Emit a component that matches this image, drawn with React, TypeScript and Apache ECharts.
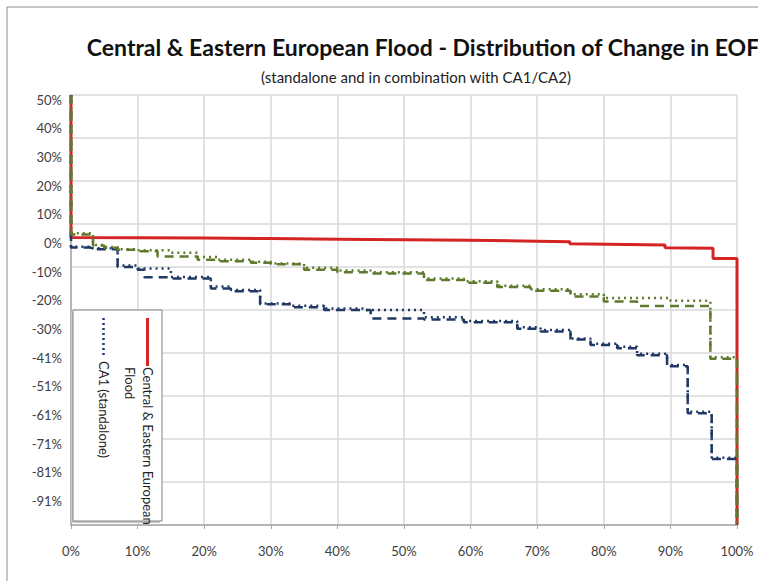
import React, { useEffect, useRef } from 'react';
import * as echarts from 'echarts';

const titleText = 'Central & Eastern European Flood - Distribution of Change in EOF';
const subtitleText = '(standalone and in combination with CA1/CA2)';

const yTickValues = [50, 40, 30, 20, 10, 0, -10, -20, -30, -40, -50, -60, -70, -80, -90];
const yTickLabels = ['50%', '40%', '30%', '20%', '10%', '0%', '-10%', '-20%', '-30%', '-41%', '-51%', '-61%', '-71%', '-81%', '-91%'];

const seriesNames = [
  'Central & Eastern European Flood',
  'CA1 (standalone)',
  'CA2 (standalone)',
  'Central & Eastern European Flood + CA1',
  'Central & Eastern European Flood + CA2',
];

// Central & Eastern European Flood (percentile, change %)
const ceeX = [0, 0, 10, 20, 30, 40, 50, 60, 70, 74.9, 74.9, 89.2, 89.2, 96.4, 96.4, 100, 100];
const ceeY = [50, 0.3, 0.2, 0.1, -0.1, -0.3, -0.5, -0.7, -1.0, -1.2, -1.9, -2.3, -3.3, -3.5, -7.0, -7.0, -100];

// CA1 standalone (step start points)
const ca1X = [0, 0, 3, 7, 10, 15, 21, 24, 28.4, 33, 38, 44, 53, 59, 67, 70.5, 75, 78, 82, 85, 89.5, 92.6, 96.2, 100];
const ca1Y = [50, -2.9, -3.5, -9.5, -10.5, -13.5, -16.8, -18, -22.7, -23.5, -24.5, -25, -27.5, -28.8, -31, -32, -34.9, -36.8, -37.8, -40.3, -44.2, -60.5, -76.5, -100];

// CA2 standalone
const ca2X = [0, 0, 3.3, 5, 7, 10, 15, 19, 22, 27, 30, 35, 40, 45, 53, 59, 64, 69, 75, 80, 90, 96, 100];
const ca2Y = [50, 1.8, -2.3, -3, -3.8, -4.2, -5, -6.5, -7.5, -8.2, -8.8, -10.3, -11.2, -11.8, -14, -15, -16.5, -17.8, -19.5, -20.8, -21.8, -41.5, -100];

// CEE Flood + CA1
const comb1X = [0, 0, 3, 7, 10, 11, 15, 21, 24, 28.4, 33, 38, 45, 53, 59, 67, 70.5, 75, 78, 82, 85, 89.5, 92.6, 96.2, 100];
const comb1Y = [50, -3.2, -3.8, -10, -11, -13.6, -14, -17.5, -18.5, -23, -24, -25, -28, -28.3, -29.3, -31.5, -32.5, -35.3, -37.2, -38.3, -40.8, -44.6, -61, -77, -100];

// CEE Flood + CA2
const comb2X = [0, 0, 3.3, 5, 7, 10, 13, 19, 22, 27, 30, 35, 40, 45, 53, 59, 64, 69, 75, 80, 85, 96, 100];
const comb2Y = [50, 1.3, -2.5, -3.3, -4, -4.5, -6.3, -7.5, -8, -8.5, -9, -11, -11.8, -12.3, -14.5, -15.5, -17, -18.3, -20.3, -22, -23.6, -42, -100];

const zip = (xs: number[], ys: number[]) => xs.map((x, i) => [x, ys[i]]);

const RED = '#D42424';
const BLUE = '#1F3864';
const GREEN = '#5F7A2C';
const FONT = 'Lato, "Noto Sans", sans-serif';

export default function App() {
  const ref = useRef<HTMLDivElement>(null);
  useEffect(() => {
    if (!ref.current) return;
    const chart = echarts.init(ref.current, null, { renderer: 'svg' });
    const lineCommon = { type: 'line', showSymbol: false, symbol: 'none', xAxisIndex: 0, yAxisIndex: 0 };
    chart.setOption({
      animation: false,
      backgroundColor: '#ffffff',
      textStyle: { fontFamily: FONT },
      title: [
        {
          text: titleText,
          left: 418,
          top: 30,
          textAlign: 'center',
          textStyle: { fontFamily: FONT, fontSize: 23, fontWeight: 'bold', color: '#111' },
        },
        {
          text: subtitleText,
          left: 411,
          top: 64,
          textAlign: 'center',
          textStyle: { fontFamily: FONT, fontSize: 15, fontWeight: 'normal', color: '#222' },
        },
      ],
      grid: { left: 71, right: 21, top: 95, bottom: 56, containLabel: false },
      xAxis: {
        type: 'value',
        min: 0,
        max: 100,
        interval: 10,
        axisLine: { show: true, onZero: false, lineStyle: { color: '#a6a6a6', width: 1.5 } },
        axisTick: { show: true, length: 4, lineStyle: { color: '#a6a6a6' } },
        axisLabel: { formatter: (v: number) => `${v}%`, margin: 19, fontSize: 13, color: '#404040', fontFamily: FONT },
        splitLine: { show: true, lineStyle: { color: '#d9d9d9', width: 1.5 } },
      },
      yAxis: [
        {
          type: 'value',
          min: -100,
          max: 50,
          interval: 10,
          axisLine: { show: true, onZero: false, lineStyle: { color: '#a6a6a6', width: 1.5 } },
          axisTick: { show: false },
          splitLine: { show: false },
          axisLabel: {
            margin: 9,
            fontSize: 13,
            color: '#404040',
            fontFamily: FONT,
            verticalAlign: 'top',
            lineHeight: 9,
            formatter: (v: number) => {
              const i = yTickValues.indexOf(Math.round(v));
              return i >= 0 ? yTickLabels[i] : '';
            },
          },
        },
        {
          type: 'value',
          min: 0,
          max: 10,
          interval: 1,
          position: 'left',
          axisLine: { show: false },
          axisTick: { show: false },
          axisLabel: { show: false },
          splitLine: { show: true, lineStyle: { color: '#d9d9d9', width: 1.5 } },
        },
      ],
      series: [
        { ...lineCommon, name: seriesNames[0], data: zip(ceeX, ceeY), lineStyle: { color: RED, width: 3, type: 'solid' }, z: 2 },
        { ...lineCommon, name: seriesNames[1], step: 'end', data: zip(ca1X, ca1Y), lineStyle: { color: BLUE, width: 2.5, type: [2, 4] }, z: 3 },
        { ...lineCommon, name: seriesNames[2], step: 'end', data: zip(ca2X, ca2Y), lineStyle: { color: GREEN, width: 2.5, type: [2, 4] }, z: 3 },
        { ...lineCommon, name: seriesNames[3], step: 'end', data: zip(comb1X, comb1Y), lineStyle: { color: BLUE, width: 2.5, type: [9, 6] }, z: 4 },
        { ...lineCommon, name: seriesNames[4], step: 'end', data: zip(comb2X, comb2Y), lineStyle: { color: GREEN, width: 2.5, type: [9, 6] }, z: 4 },
      ],
      graphic: [
        { type: 'rect', z: 100, shape: { x: 7, y: 7, width: 800, height: 620 }, style: { fill: 'none', stroke: '#8c8c8c', lineWidth: 1 } },
        { type: 'rect', z: 100, shape: { x: 71, y: 312, width: 89, height: 211 }, style: { fill: '#c8c8c8', stroke: 'none' } },
        { type: 'rect', z: 101, shape: { x: 73, y: 310, width: 89, height: 211 }, style: { fill: '#ffffff', stroke: '#808080', lineWidth: 1 } },
        { type: 'line', z: 102, shape: { x1: 147.5, y1: 318, x2: 147.5, y2: 366 }, style: { stroke: RED, lineWidth: 3 } },
        { type: 'line', z: 102, shape: { x1: 103.5, y1: 318, x2: 103.5, y2: 356 }, style: { stroke: BLUE, lineWidth: 2.5, lineDash: [2, 3] } },
        {
          type: 'text', z: 102, x: 148, y: 367, rotation: -Math.PI / 2,
          style: { text: 'Central & Eastern European', font: `13px ${FONT}`, fill: '#222', textAlign: 'left', textVerticalAlign: 'middle', align: 'left', verticalAlign: 'middle' },
        },
        {
          type: 'text', z: 102, x: 130, y: 367, rotation: -Math.PI / 2,
          style: { text: 'Flood', font: `13px ${FONT}`, fill: '#222', textAlign: 'left', textVerticalAlign: 'middle', align: 'left', verticalAlign: 'middle' },
        },
        {
          type: 'text', z: 102, x: 103.5, y: 361, rotation: -Math.PI / 2,
          style: { text: 'CA1 (standalone)', font: `13px ${FONT}`, fill: '#222', textAlign: 'left', textVerticalAlign: 'middle', align: 'left', verticalAlign: 'middle' },
        },
      ],
    });
    return () => chart.dispose();
  }, []);
  return <div ref={ref} style={{ position: 'fixed', left: 0, top: 0, width: 758, height: 581 }} />;
}
